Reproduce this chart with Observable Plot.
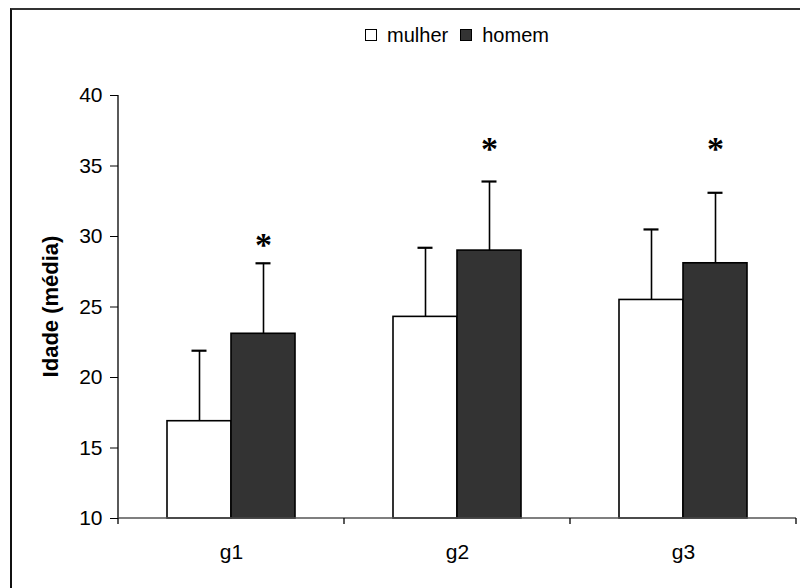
<!DOCTYPE html>
<html><head><meta charset="utf-8">
<script src="https://cdn.jsdelivr.net/npm/d3@7"></script>
<script src="https://cdn.jsdelivr.net/npm/@observablehq/plot@0.6"></script>
<style>
body{margin:0;width:800px;height:588px;overflow:hidden;background:#fff;font-family:"Liberation Sans",Arial,sans-serif;position:relative}
#frame{position:absolute;left:10px;top:8px;width:820px;height:620px;border-left:2px solid #111;border-top:2px solid #333;box-sizing:border-box;pointer-events:none}
#legend{position:absolute;top:25px;left:118px;width:678px;display:flex;justify-content:center;align-items:center;font-size:20px;line-height:20px;color:#000}
#legend .sw{display:inline-block;width:12px;height:12px;border:1.5px solid #000;box-sizing:border-box;margin-right:10px}
#legend .item{display:flex;align-items:center;margin:0 6px}
#chart{position:absolute;top:50px;left:0}
</style>
</head><body>
<div id="legend"></div>
<div id="chart"></div>
<div id="frame"></div>
<script>
const groups = ["g1", "g2", "g3"];
const sexes = ["mulher", "homem"];
const mulherMean = [16.9, 24.3, 25.5];
const homemMean = [23.1, 29.0, 28.1];
const mulherSD = [5.0, 4.9, 5.0];
const homemSD = [5.0, 4.9, 5.0];
const sigMarker = ["*", "*", "*"];
const sigY = [29.4, 36.2, 36.2];
const yTicks = [10, 15, 20, 25, 30, 35, 40];
const yDomain = [10, 40];
const yTitle = "Idade (média)";
const colors = {mulher: "#ffffff", homem: "#333333"};

const rows = [];
groups.forEach((g, i) => {
  rows.push({group: g, sex: "mulher", mean: mulherMean[i], sd: mulherSD[i]});
  rows.push({group: g, sex: "homem", mean: homemMean[i], sd: homemSD[i]});
});
const sig = groups.map((g, i) => ({group: g, sex: "homem", y: sigY[i], label: sigMarker[i]}));

// legend
const lg = document.getElementById("legend");
sexes.forEach(s => {
  const it = document.createElement("span"); it.className = "item";
  const sw = document.createElement("span"); sw.className = "sw"; sw.style.background = colors[s];
  it.appendChild(sw); it.appendChild(document.createTextNode(s)); lg.appendChild(it);
});

const plot = Plot.plot({
  width: 800,
  height: 538,
  marginTop: 45,
  marginBottom: 70,
  marginLeft: 118,
  marginRight: 4,
  style: {fontFamily: "'Liberation Sans', Arial, sans-serif", fontSize: "21px", color: "#000", background: "transparent"},
  fx: {domain: groups, padding: 0, label: null, tickSize: 0, tickPadding: 26},
  x: {domain: sexes, axis: null, paddingInner: 0, paddingOuter: 0.74},
  y: {domain: yDomain, ticks: yTicks, tickSize: 8, tickPadding: 8, label: null},
  marks: [
    Plot.barY(rows, {fx: "group", x: "sex", y1: yDomain[0], y2: "mean", fill: d => colors[d.sex], stroke: "#000", strokeWidth: 1.6}),
    Plot.ruleX(rows, {fx: "group", x: "sex", y1: "mean", y2: d => d.mean + d.sd, stroke: "#000", strokeWidth: 1.6}),
    Plot.tickY(rows, {fx: "group", x: "sex", y: d => d.mean + d.sd, stroke: "#000", strokeWidth: 2.2, insetLeft: 24.5, insetRight: 24.5}),
    Plot.text(sig, {fx: "group", x: "sex", y: "y", text: "label", fontSize: 34, fontWeight: "bold", fontFamily: "'Liberation Serif', 'Times New Roman', serif", fill: "#000"})
  ]
});
document.getElementById("chart").appendChild(plot);

// axis lines, category boundary ticks and y title, positioned through Plot's scales
const ys = plot.scale("y"), fxs = plot.scale("fx");
const svg = d3.select(plot);
const yb = ys.apply(yDomain[0]), yt = ys.apply(yDomain[1]);
const x0 = fxs.apply(groups[0]);
const xEnd = fxs.apply(groups[groups.length - 1]) + fxs.bandwidth;
const deco = svg.append("g").attr("stroke", "#000").attr("stroke-width", 1.3);
deco.append("line").attr("x1", x0).attr("x2", x0).attr("y1", yt).attr("y2", yb);
deco.append("line").attr("x1", x0).attr("x2", xEnd).attr("y1", yb).attr("y2", yb).attr("stroke", "#555");
groups.forEach(g => {
  const xp = fxs.apply(g);
  deco.append("line").attr("x1", xp).attr("x2", xp).attr("y1", yb).attr("y2", yb + 6);
});
deco.append("line").attr("x1", xEnd).attr("x2", xEnd).attr("y1", yb).attr("y2", yb + 6);
svg.append("text")
  .attr("transform", `translate(${x0 - 60},${(yb + yt) / 2}) rotate(-90)`)
  .attr("text-anchor", "middle")
  .attr("font-weight", "bold")
  .attr("font-size", 22)
  .attr("fill", "#000")
  .text(yTitle);
</script>
</body></html>
